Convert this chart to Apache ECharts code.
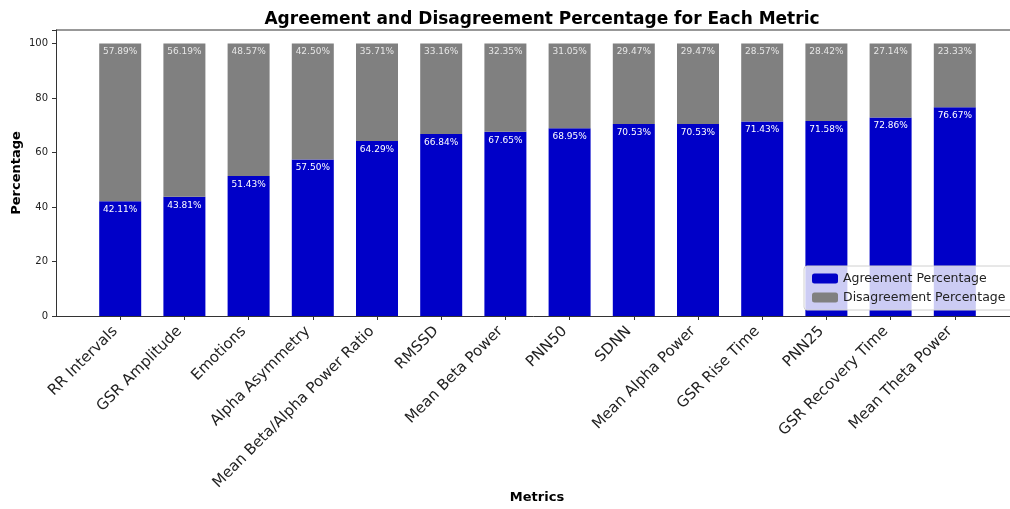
<!doctype html>
<html>
<head>
<meta charset="utf-8">
<script src="https://cdn.jsdelivr.net/npm/echarts@6/dist/echarts.min.js"></script>
<style>
  body { margin: 0; background: #fff; }
  #chart { width: 1010px; height: 509px; }
</style>
</head>
<body>
<div id="chart"></div>
<script>
// categories and values
var metrics = ['RR Intervals', 'GSR Amplitude', 'Emotions', 'Alpha Asymmetry', 'Mean Beta/Alpha Power Ratio',
  'RMSSD', 'Mean Beta Power', 'PNN50', 'SDNN', 'Mean Alpha Power', 'GSR Rise Time', 'PNN25',
  'GSR Recovery Time', 'Mean Theta Power'];
var agreement = [42.11, 43.81, 51.43, 57.50, 64.29, 66.84, 67.65, 68.95, 70.53, 70.53, 71.43, 71.58, 72.86, 76.67];
var disagreement = [57.89, 56.19, 48.57, 42.50, 35.71, 33.16, 32.35, 31.05, 29.47, 29.47, 28.57, 28.42, 27.14, 23.33];
var yTicks = [0, 20, 40, 60, 80, 100];

// pad one empty slot each side so the axis runs from -1 to 14 like matplotlib
var cats = [''].concat(metrics, ['']);
var pad = function (arr) { return [null].concat(arr, [null]); };

var font = 'DejaVu Sans';
var chart = echarts.init(document.getElementById('chart'));

chart.setOption({
  animation: false,
  textStyle: { fontFamily: font },
  title: {
    text: 'Agreement and Disagreement Percentage for Each Metric',
    left: 537, top: 6, textAlign: 'center',
    textStyle: { fontSize: 17, fontWeight: 'bold', color: '#000', fontFamily: font }
  },
  legend: {
    orient: 'vertical', left: 804, top: 266,
    itemWidth: 26, itemHeight: 10, itemGap: 6,
    padding: [6, 8, 6, 8],
    backgroundColor: 'rgba(255,255,255,0.8)',
    borderColor: '#d0d0d0', borderWidth: 1, borderRadius: 3,
    textStyle: { fontSize: 12.5, color: '#222', fontFamily: font },
    data: ['Agreement Percentage', 'Disagreement Percentage']
  },
  grid: { left: 56, top: 30, width: 963, height: 286, containLabel: false, outerBoundsMode: 'none' },
  xAxis: {
    type: 'category', data: cats, boundaryGap: false,
    axisLine: { lineStyle: { color: '#333', width: 1 } },
    axisTick: { length: 4, lineStyle: { color: '#333' }, interval: function (i) { return i > 0 && i < cats.length - 1; } },
    axisLabel: { rotate: 45, fontSize: 15, color: '#222', margin: 8, interval: 0, padding: [0, 7, 0, 0] },
    splitLine: { show: false }
  },
  yAxis: {
    type: 'value', min: 0, max: 105, interval: 20,
    axisLine: { show: true, lineStyle: { color: '#333' } },
    axisTick: { show: true, length: 4, lineStyle: { color: '#333' } },
    axisLabel: {
      fontSize: 10, color: '#222', margin: 8,
      formatter: function (v) { return yTicks.indexOf(v) >= 0 ? v : ''; }
    },
    splitLine: { show: false }
  },
  series: [
    {
      name: 'Agreement Percentage', type: 'bar', stack: 'total', barWidth: 42,
      itemStyle: { color: '#0000c8' },
      label: {
        show: true, position: 'insideTop', distance: 4, fontSize: 9, color: '#fff',
        formatter: function (p) { return p.value.toFixed(2) + '%'; }
      },
      data: pad(agreement)
    },
    {
      name: 'Disagreement Percentage', type: 'bar', stack: 'total', barWidth: 42,
      itemStyle: { color: '#808080' },
      label: {
        show: true, position: 'insideTop', distance: 4, fontSize: 9, color: '#e6e6e6',
        formatter: function (p) { return p.value.toFixed(2) + '%'; }
      },
      data: pad(disagreement)
    }
  ],
  graphic: [
    { type: 'line', shape: { x1: 56, y1: 30, x2: 1010, y2: 30 }, style: { stroke: '#333', lineWidth: 1 } },
    // axis titles
    { type: 'text', x: 537, y: 498, style: { text: 'Metrics', font: 'bold 13px "DejaVu Sans"', fill: '#000', align: 'center', verticalAlign: 'middle' } },
    { type: 'text', x: 17, y: 173, rotation: Math.PI / 2, style: { text: 'Percentage', font: 'bold 13px "DejaVu Sans"', fill: '#000', align: 'center', verticalAlign: 'middle' } }
  ]
});
</script>
</body>
</html>
